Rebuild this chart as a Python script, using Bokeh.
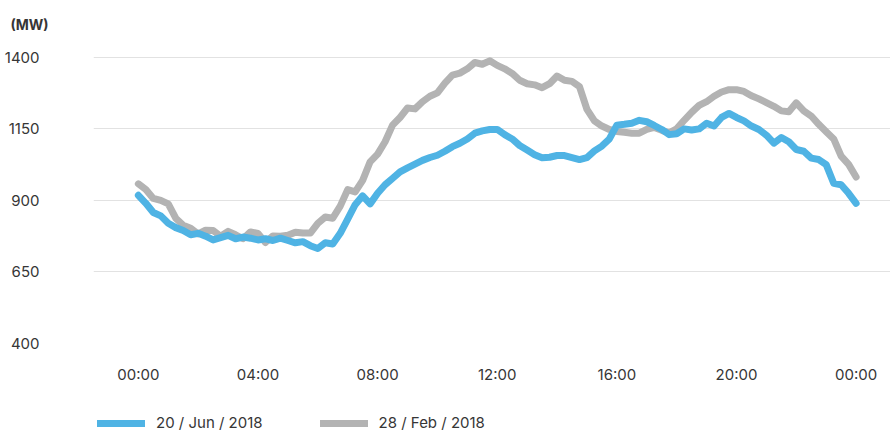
from bokeh.plotting import figure
from bokeh.layouts import column
from bokeh.models import FixedTicker, Legend, LegendItem, Range1d
from bokeh.embed import file_html
from bokeh.resources import INLINE

# Load sampled every 15 minutes (hours since midnight)
hours = [i * 0.25 for i in range(97)]

jun_20 = [
    918, 890, 858, 846, 820, 805, 795, 780, 785, 775, 762, 770, 778, 766, 772, 768,
    762, 766, 760, 768, 760, 752, 756, 742, 732, 752, 748, 785, 835, 885, 916, 888,
    925, 955, 977, 1000, 1014, 1027, 1040, 1050, 1058, 1072, 1088, 1100, 1115, 1135, 1143, 1148,
    1148, 1130, 1115, 1092, 1076, 1060, 1049, 1051, 1057, 1057, 1050, 1043, 1050, 1073, 1090, 1115,
    1163, 1166, 1170, 1180, 1175, 1162, 1148, 1130, 1133, 1150, 1146, 1150, 1170, 1160, 1190, 1204,
    1190, 1178, 1160, 1148, 1128, 1100, 1120, 1105, 1078, 1072, 1048, 1043, 1025, 960, 955, 925,
    890,
]

feb_28 = [
    958, 938, 907, 900, 888, 838, 813, 803, 783, 796, 795, 775, 792, 780, 766, 790,
    785, 753, 776, 775, 778, 789, 786, 786, 820, 842, 838, 880, 938, 930, 970, 1035,
    1062, 1105, 1163, 1190, 1223, 1220, 1245, 1264, 1276, 1310, 1338, 1345, 1360, 1382, 1376, 1388,
    1372, 1360, 1344, 1320, 1308, 1304, 1294, 1308, 1335, 1320, 1316, 1298, 1218, 1178, 1160, 1148,
    1141, 1138, 1135, 1135, 1148, 1155, 1145, 1136, 1150, 1180, 1208, 1232, 1245, 1264, 1279, 1287,
    1287, 1281, 1266, 1255, 1242, 1229, 1213, 1210, 1241, 1213, 1195, 1166, 1140, 1115, 1055, 1026,
    982,
]

series_labels = ["20 / Jun / 2018", "28 / Feb / 2018"]
x_ticks = [0, 4, 8, 12, 16, 20, 24]
x_tick_labels = ["00:00", "04:00", "08:00", "12:00", "16:00", "20:00", "00:00"]
y_ticks = [400, 650, 900, 1150, 1400]

FONT = "Inter"
FONT_SIZE = "15px"
TEXT = "#363636"
BLUE = "#4fb3e4"
GREY = "#b3b3b3"
LINE_STYLE = dict(line_width=7, line_cap="round", line_join="round")

# ---- main chart ----
p = figure(
    width=890, height=395,
    output_backend="svg", toolbar_location=None,
    x_range=Range1d(-1.5, 25.15), y_range=Range1d(400, 1438),
    min_border_left=93, min_border_right=0, min_border_top=45, min_border_bottom=52,
    title="(MW)",
)
p.outline_line_color = None
p.background_fill_color = "white"
p.border_fill_color = "white"

p.title.text_font = FONT
p.title.text_font_size = "14px"
p.title.text_font_style = "bold"
p.title.text_color = TEXT
p.title.align = "left"
p.title.offset = -83
p.title.standoff = 27

p.line(hours, feb_28, line_color=GREY, **LINE_STYLE)
p.line(hours, jun_20, line_color=BLUE, **LINE_STYLE)

p.xaxis.ticker = FixedTicker(ticks=x_ticks)
p.xaxis.major_label_overrides = {t: l for t, l in zip(x_ticks, x_tick_labels)}
p.yaxis.ticker = FixedTicker(ticks=y_ticks)

for ax in (p.xaxis[0], p.yaxis[0]):
    ax.axis_line_color = None
    ax.major_tick_line_color = None
    ax.minor_tick_line_color = None
    ax.major_label_text_font = FONT
    ax.major_label_text_font_size = FONT_SIZE
    ax.major_label_text_color = TEXT
p.xaxis.major_label_standoff = 15
p.yaxis.major_label_standoff = 48

p.xgrid.grid_line_color = None
p.ygrid.grid_line_color = "#e2e2e2"
p.ygrid.grid_line_width = 1

# ---- legend strip (keys reuse the series; the strip's ranges keep them off-canvas) ----
leg = figure(
    width=890, height=37,
    output_backend="svg", toolbar_location=None,
    x_range=Range1d(100, 101), y_range=Range1d(0, 1),
    min_border=0, min_border_left=0, min_border_right=0,
    min_border_top=0, min_border_bottom=0,
    x_axis_location=None, y_axis_location=None,
)
leg.outline_line_color = None
leg.grid.grid_line_color = None
leg.background_fill_color = "white"
leg.border_fill_color = "white"

key_jun = leg.line(hours, jun_20, line_color=BLUE, **LINE_STYLE)
key_feb = leg.line(hours, feb_28, line_color=GREY, **LINE_STYLE)

legend = Legend(
    items=[
        LegendItem(label=series_labels[0], renderers=[key_jun]),
        LegendItem(label=series_labels[1], renderers=[key_feb]),
    ],
    orientation="horizontal",
    location=(4, 0),
    glyph_width=48, glyph_height=14,
    label_standoff=11, spacing=57, padding=0, margin=0,
    label_text_font=FONT, label_text_font_size=FONT_SIZE, label_text_color=TEXT,
    border_line_color=None, background_fill_alpha=0,
)
leg.add_layout(legend, "center")

page = column(p, leg, spacing=0)
open("out.html", "w").write(file_html(page, INLINE))
